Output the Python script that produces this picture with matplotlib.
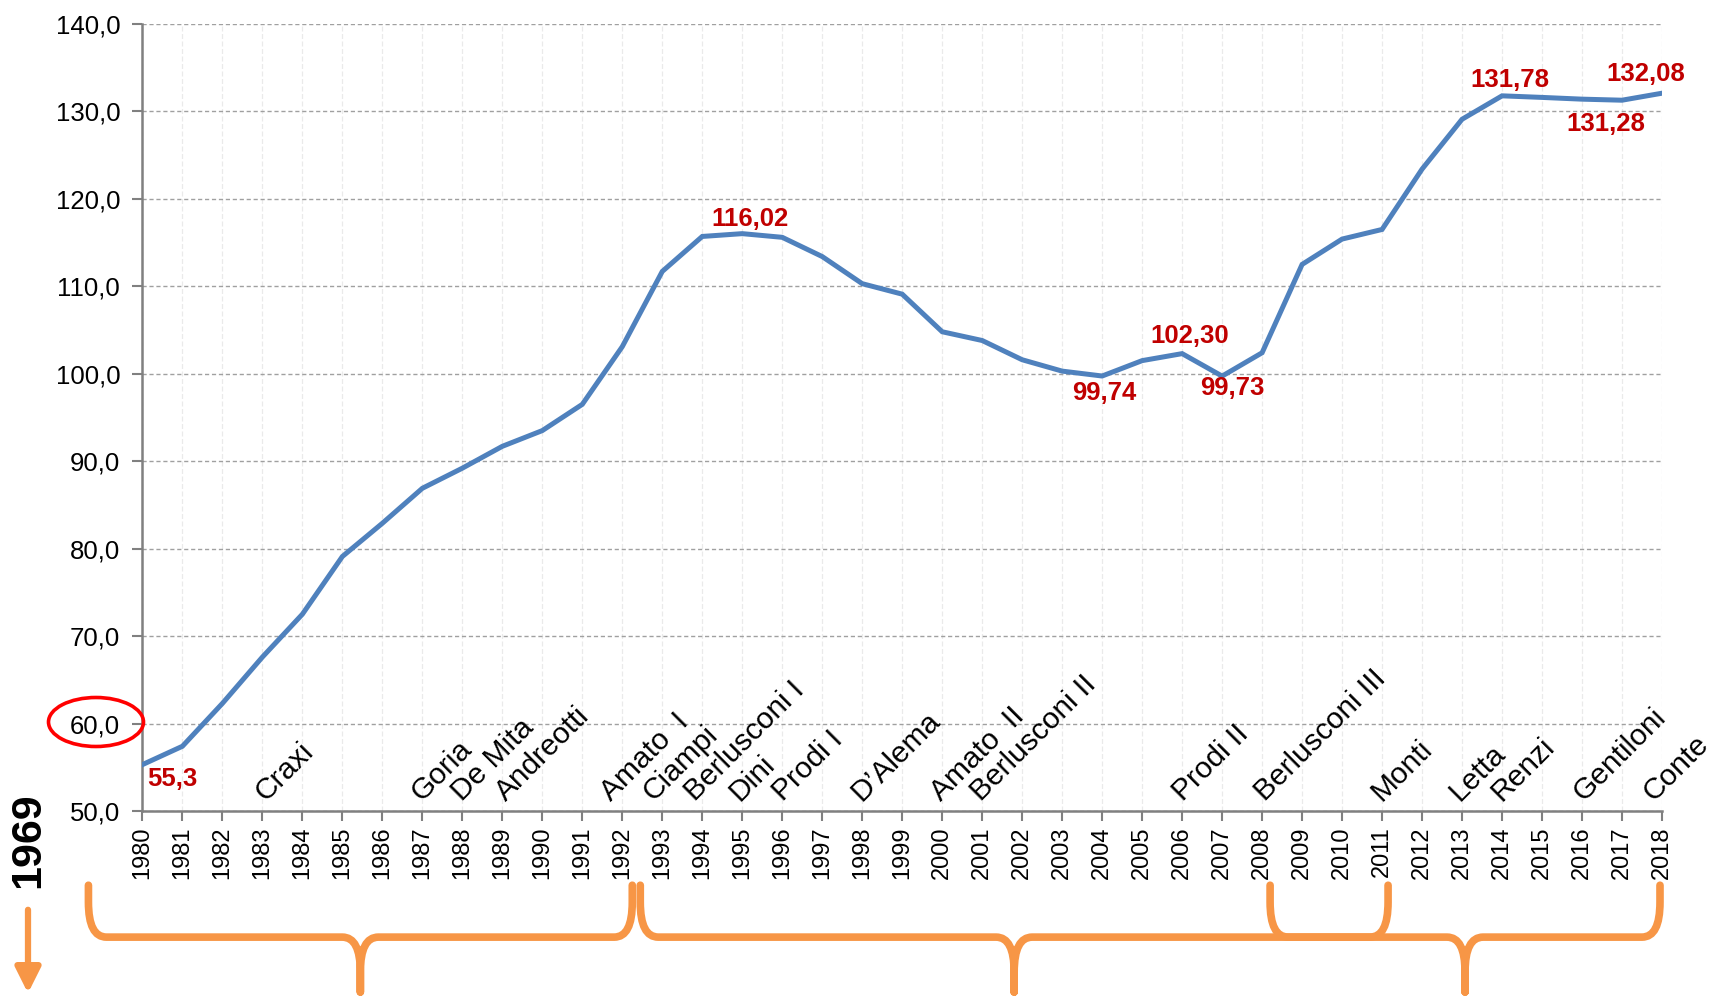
import matplotlib
matplotlib.use("Agg")
import matplotlib.pyplot as plt
from matplotlib.patches import Ellipse, PathPatch, FancyArrowPatch
from matplotlib.path import Path
from matplotlib.transforms import blended_transform_factory

# --- data -----------------------------------------------------------------
years = list(range(1980, 2019))
debt = [55.3, 57.4, 62.3, 67.6, 72.5, 79.1, 82.9, 86.9, 89.2, 91.7,
        93.5, 96.5, 103.1, 111.7, 115.7, 116.02, 115.6, 113.4, 110.3, 109.1,
        104.8, 103.8, 101.6, 100.3, 99.74, 101.5, 102.30, 99.73, 102.4, 112.5,
        115.4, 116.5, 123.4, 129.1, 131.78, 131.6, 131.4, 131.28, 132.08]

label_years = [1980, 1995, 2004, 2006, 2007, 2014, 2017, 2018]
label_texts = ["55,3", "116,02", "99,74", "102,30", "99,73", "131,78", "131,28", "132,08"]
label_dx = [0.75, 0.2, 0.05, 0.2, 0.25, 0.2, -0.4, -0.4]
label_dy = [-1.7, 1.7, -1.9, 2.0, -1.4, 1.8, -2.7, 2.2]

gov_names = ["Craxi", "Goria", "De Mita", "Andreotti", "Amato  I", "Ciampi",
             "Berlusconi I", "Dini", "Prodi I", "D’Alema", "Amato  II",
             "Berlusconi II", "Prodi II", "Berlusconi III", "Monti", "Letta",
             "Renzi", "Gentiloni", "Conte"]
gov_x = [1983.08, 1986.98, 1987.98, 1989.08, 1991.73, 1992.78, 1993.83, 1994.93,
         1996.03, 1997.98, 1999.98, 2000.98, 2006.03, 2008.08, 2010.98, 2012.93,
         2013.98, 2016.03, 2017.8]

brace_spans = [(1978.65, 1992.25), (1992.45, 2011.15), (2008.2, 2017.95)]

SANS = ["Liberation Sans", "DejaVu Sans"]
ORANGE = "#F79646"

fig = plt.figure(figsize=(17.18, 9.98), dpi=100)
ax = fig.add_axes([0.0829, 0.1874, 0.9674 - 0.0829, 0.976 - 0.1874])

ax.plot(years, debt, color="#4F81BD", lw=3.6, solid_joinstyle="miter", zorder=3)

for yr, txt, dx, dy in zip(label_years, label_texts, label_dx, label_dy):
    v = debt[years.index(yr)]
    ax.text(yr + dx, v + dy, txt, color="#C00000", fontsize=18.5, fontweight="bold",
            family=SANS, ha="center", va="center", zorder=4)

for name, x in zip(gov_names, gov_x):
    ax.text(x, 51.0, name, rotation=45, rotation_mode="anchor", ha="left",
            va="baseline", fontsize=21.5, family=SANS, color="black", zorder=4)

ax.set_xlim(1980, 2018)
ax.set_ylim(50, 140)
ax.set_xticks(years)
ax.set_xticklabels([str(y) for y in years], rotation=90, family=SANS, fontsize=17)
ax.set_yticks(range(50, 141, 10))
ax.set_yticklabels([f"{v},0" for v in range(50, 141, 10)], family=SANS, fontsize=18.5)
ax.tick_params(axis="x", length=7, width=1.5, color="#808080", pad=4)
ax.tick_params(axis="y", length=7, width=1.5, color="#808080", pad=9)

ax.grid(axis="y", color="#A0A0A0", ls=(0, (3, 2)), lw=1.0)
ax.grid(axis="x", color="#EAEAEA", ls=(0, (4, 2)), lw=0.9)
ax.set_axisbelow(True)
for s in ("top", "right"):
    ax.spines[s].set_visible(False)
for s in ("left", "bottom"):
    ax.spines[s].set_color("#808080")
    ax.spines[s].set_linewidth(1.8)

# --- annotations below the axis -------------------------------------------
trans = blended_transform_factory(ax.transData, fig.transFigure)
ytop, ymid, ytip, c, r = 0.113, 0.061, 0.006, 0.035, 0.45
for x0, x1 in brace_spans:
    m = (x0 + x1) / 2
    verts, codes = [], []
    for xe, sgn in ((x0, 1), (x1, -1)):
        verts += [(xe, ytop), (xe, ymid + c), (xe, ymid), (xe + sgn * r, ymid),
                  (m - sgn * r, ymid), (m, ymid), (m, ymid - c), (m, ytip)]
        codes += [Path.MOVETO, Path.LINETO, Path.CURVE3, Path.CURVE3,
                  Path.LINETO, Path.CURVE3, Path.CURVE3, Path.LINETO]
    fig.add_artist(PathPatch(Path(verts, codes), transform=trans, fill=False,
                             ec=ORANGE, lw=5.5, capstyle="round", joinstyle="round"))

fig.text(28 / 1718, 1 - 840 / 998, "1969", rotation=90, fontsize=31,
         fontweight="bold", family=SANS, ha="center", va="center")
fig.add_artist(FancyArrowPatch((28 / 1718, 1 - 907 / 998), (28 / 1718, 1 - 996 / 998),
                               transform=fig.transFigure, arrowstyle="-|>",
                               mutation_scale=38, color=ORANGE, lw=4.5))
fig.add_artist(Ellipse((96 / 1718, 1 - 722 / 998), 95 / 1718, 49 / 998,
                       transform=fig.transFigure, fill=False, ec="#FF0000", lw=2.6))

fig.savefig("out.png", dpi=100)
